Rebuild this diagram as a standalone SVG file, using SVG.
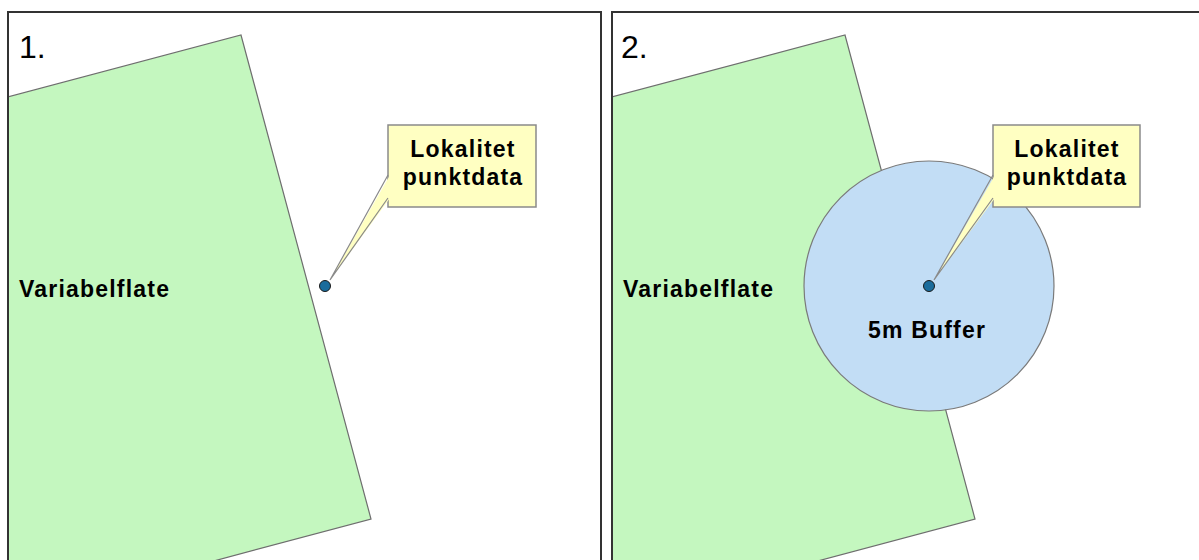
<svg xmlns="http://www.w3.org/2000/svg" width="1199" height="560" viewBox="0 0 1199 560">
  <style>
    .frame { fill: #ffffff; stroke: #333333; stroke-width: 2; }
    .area { fill: #c4f7bf; stroke: #6e6e6e; stroke-width: 1.2; }
    .buffer { fill: #c2ddf5; stroke: #7a7a7a; stroke-width: 1.2; }
    .box { fill: #ffffc2; stroke: #8a8a8a; stroke-width: 1.5; }
    .wedge { fill: #ffffc2; stroke: none; }
    .wedge-edge { fill: none; stroke: #8a8a8a; stroke-width: 1.2; }
    .pt { fill: #1b6c9c; stroke: #1a1a1a; stroke-width: 1; }
    .num { font-family: "Liberation Sans", Arial, sans-serif; font-size: 32px; fill: #000; }
    .lbl { font-family: "Liberation Sans", Arial, sans-serif; font-size: 23px; font-weight: bold; letter-spacing: 1.2px; fill: #000; }
  </style>
  <defs>
    <clipPath id="clip1"><rect x="8" y="12" width="593" height="560"/></clipPath>
    <clipPath id="clip2"><rect x="612" y="12" width="600" height="560"/></clipPath>
  </defs>
  <rect x="0" y="0" width="1199" height="560" fill="#ffffff"/>

  <g id="panel1">
    <rect class="frame" x="8" y="12" width="593" height="570"/>
    <g clip-path="url(#clip1)">
      <g id="area1">
        <polygon class="area" points="4,98 241,35 371,519 4,617"/>
        <text class="lbl" x="19" y="297">Variabelflate</text>
      </g>
    </g>
    <rect x="8" y="12" width="593" height="570" fill="none" stroke="#333333" stroke-width="2"/>
    <text class="num" x="19" y="58">1.</text>
    <g id="callout1">
      <rect class="box" x="388" y="125" width="148" height="82"/>
      <text class="lbl" x="463" y="157" text-anchor="middle">Lokalitet</text>
      <text class="lbl" x="463" y="185" text-anchor="middle">punktdata</text>
    </g>
  </g>

  <g id="panel2">
    <rect class="frame" x="612" y="12" width="600" height="570"/>
    <g clip-path="url(#clip2)">
      <g id="area2">
        <polygon class="area" points="608,98 845,35 975,519 608,617"/>
        <text class="lbl" x="623" y="297">Variabelflate</text>
      </g>
      <g id="buffer">
        <circle class="buffer" cx="929" cy="286" r="125"/>
        <text class="lbl" x="927" y="338" text-anchor="middle">5m Buffer</text>
      </g>
    </g>
    <rect x="612" y="12" width="600" height="570" fill="none" stroke="#333333" stroke-width="2"/>
    <text class="num" x="621" y="58">2.</text>
    <g id="callout2">
      <rect class="box" x="993" y="125" width="147" height="82"/>
      <text class="lbl" x="1067" y="157" text-anchor="middle">Lokalitet</text>
      <text class="lbl" x="1067" y="185" text-anchor="middle">punktdata</text>
    </g>
  </g>

  <g id="connectors">
    <polygon class="wedge" points="390,175 330,280 390,198"/>
    <polyline class="wedge-edge" points="388,175 330,280 388,198"/>
    <polygon class="wedge" points="995,175 934,280 995,198"/>
    <polyline class="wedge-edge" points="993,175 934,280 993,198"/>
  </g>

  <g id="point1"><circle class="pt" cx="325" cy="286" r="5.5"/></g>
  <g id="point2"><circle class="pt" cx="929" cy="286" r="5.5"/></g>
</svg>
